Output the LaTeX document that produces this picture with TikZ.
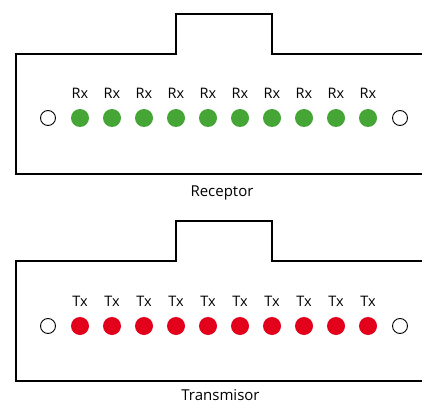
\documentclass[tikz,border=0pt]{standalone}
\usepackage{fontspec}
\setmainfont{Open Sans}
\definecolor{ledgreen}{HTML}{45A635}
\definecolor{ledred}{HTML}{E2001A}

\begin{document}
\begin{tikzpicture}[x=1pt, y=-1pt, every node/.style={font=\fontsize{14.5}{17}\selectfont},
  housing/.style={line width=1.2pt},
  led/.style={circle, inner sep=0pt, minimum size=18pt},
  offled/.style={circle, draw, line width=0.9pt, inner sep=0pt, minimum size=15pt}]
  \useasboundingbox (0,0) rectangle (422,403);
  % receptor
  \draw[housing] (422,54) -- (272,54) -- (272,14) -- (176,14) -- (176,54) -- (16,54) -- (16,174) -- (422,174);
  \node[offled] (rxl) at (48,118) {};
  \node[offled] (rxr) at (400,118) {};
  \foreach \i in {1,...,10} {
    \node[led, fill=ledgreen] (rx\i) at (48+32*\i,118) {};
    \node[anchor=base] (rxlbl\i) at (48+32*\i,99) {Rx};
  }
  \node[anchor=base, font=\fontsize{15}{17}\selectfont] (rxname) at (222,196.5) {Receptor};
  % transmisor
  \draw[housing] (422,261) -- (272,261) -- (272,221) -- (176,221) -- (176,261) -- (16,261) -- (16,381) -- (422,381);
  \node[offled] (txl) at (48,326) {};
  \node[offled] (txr) at (400,326) {};
  \foreach \i in {1,...,10} {
    \node[led, fill=ledred] (tx\i) at (48+32*\i,326) {};
    \node[anchor=base] (txlbl\i) at (48+32*\i,306) {Tx};
  }
  \node[anchor=base, font=\fontsize{15}{17}\selectfont] (txname) at (220.5,400) {Transmisor};
\end{tikzpicture}
\end{document}
